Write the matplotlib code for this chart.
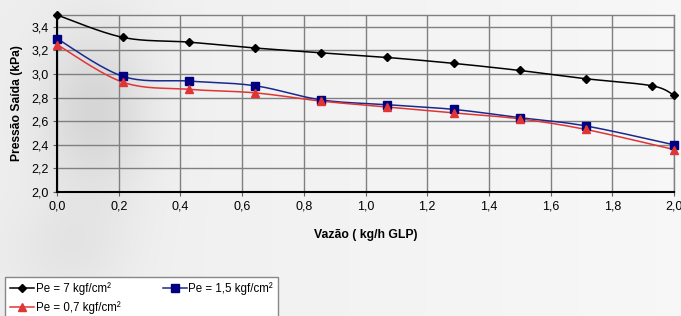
# -*- coding: utf-8 -*-
import numpy as np
import matplotlib
matplotlib.use("Agg")
import matplotlib.pyplot as plt
from matplotlib.ticker import FuncFormatter, MultipleLocator

plt.rcParams['font.family'] = ['Liberation Sans', 'DejaVu Sans']

# data
vazao_7 = [0.0, 0.214, 0.428, 0.643, 0.857, 1.071, 1.286, 1.5, 1.714, 1.929, 2.0]
pres_7 = [3.50, 3.31, 3.27, 3.22, 3.18, 3.14, 3.09, 3.03, 2.96, 2.90, 2.82]

vazao_15 = [0.0, 0.214, 0.428, 0.643, 0.857, 1.071, 1.286, 1.5, 1.714, 2.0]
pres_15 = [3.30, 2.98, 2.94, 2.90, 2.78, 2.74, 2.70, 2.63, 2.56, 2.40]

vazao_07 = [0.0, 0.214, 0.428, 0.643, 0.857, 1.071, 1.286, 1.5, 1.714, 2.0]
pres_07 = [3.25, 2.93, 2.87, 2.84, 2.77, 2.72, 2.67, 2.62, 2.53, 2.36]

labels = ['Pe = 7 kgf/cm²', 'Pe = 1,5 kgf/cm²', 'Pe = 0,7 kgf/cm²']


def smooth(x, y, n=20):
    # excel-like smoothed line (bezier through the points)
    x = np.asarray(x, float)
    y = np.asarray(y, float)
    px = np.concatenate([[x[0]], x, [x[-1]]])
    py = np.concatenate([[y[0]], y, [y[-1]]])
    xs, ys = [], []
    t = np.linspace(0, 1, n)
    for i in range(1, len(px) - 2):
        p0 = np.array([px[i], py[i]])
        p3 = np.array([px[i + 1], py[i + 1]])
        c1 = p0 + (p3 - np.array([px[i - 1], py[i - 1]])) / 6.0
        c2 = p3 - (np.array([px[i + 2], py[i + 2]]) - p0) / 6.0
        b = ((1 - t) ** 3)[:, None] * p0 + (3 * (1 - t) ** 2 * t)[:, None] * c1 \
            + (3 * (1 - t) * t ** 2)[:, None] * c2 + (t ** 3)[:, None] * p3
        xs.extend(b[:, 0])
        ys.extend(b[:, 1])
    return xs, ys


fig = plt.figure(figsize=(6.81, 3.16), dpi=100, facecolor='#efefef')

# soft gray backdrop like the original sheet
bg = fig.add_axes([0, 0, 1, 1])
gx, gy = np.meshgrid(np.arange(681), np.arange(316))
shade = 0.935 + 0.035 * gx / 681.0
shade -= 0.10 * np.exp(-((gx - 95) / 55.0) ** 2 - ((gy - 110) / 85.0) ** 2)
shade -= 0.04 * np.exp(-((gx - 70) / 60.0) ** 2 - ((gy - 250) / 50.0) ** 2)
bg.imshow(np.dstack([shade] * 3), aspect='auto', interpolation='bilinear')
bg.axis('off')

ax = fig.add_axes([57 / 681, 1 - 192 / 316, 617 / 681, 177 / 316])
ax.set_facecolor('none')

series = [
    (vazao_7, pres_7, '#000000', '#000000', 'D', 4),
    (vazao_15, pres_15, '#1a2a8c', '#000080', 's', 6),
    (vazao_07, pres_07, '#e03535', '#e03535', '^', 6),
]
handles = []
for (x, y, lc, mc, mk, ms), lab in zip(series, labels):
    sx, sy = smooth(x, y)
    ax.plot(sx, sy, color=lc, lw=1.1, zorder=3, clip_on=False)
    ax.plot(x, y, ls='none', marker=mk, ms=ms, color=mc, zorder=4, clip_on=False)
    h, = ax.plot([], [], color=lc, lw=1.1, marker=mk, ms=ms * 0.9, mfc=mc, mec=mc)
    handles.append(h)

ax.set_xlim(0, 2.0)
ax.set_ylim(2.0, 3.5)
ax.xaxis.set_major_locator(MultipleLocator(0.2))
ax.yaxis.set_major_locator(MultipleLocator(0.2))
fmt = FuncFormatter(lambda v, p: ('%.1f' % v).replace('.', ','))
ax.xaxis.set_major_formatter(fmt)
ax.yaxis.set_major_formatter(fmt)
ax.grid(True, color='#808080', lw=1)
ax.set_axisbelow(True)
ax.tick_params(labelsize=9, length=3, width=0.8, color='#606060', pad=3)
for s in ['top', 'right']:
    ax.spines[s].set_color('#808080')
    ax.spines[s].set_linewidth(1)
for s in ['left', 'bottom']:
    ax.spines[s].set_color('#000000')
    ax.spines[s].set_linewidth(1.5)

ax.set_xlabel('Vazão ( kg/h GLP)', fontsize=8.8, fontweight='bold', labelpad=12)
ax.set_ylabel('Pressão Saída (kPa)', fontsize=8.7, fontweight='bold', labelpad=6)

# legend rows: 7 | 1,5 then 0,7 (matplotlib fills by column)
order = [0, 2, 1]
leg = fig.legend([handles[i] for i in order], [labels[i] for i in order],
                 loc='upper left', bbox_to_anchor=(5 / 681, 1 - 277 / 316),
                 ncol=2, fontsize=8.3, frameon=True, fancybox=False, edgecolor='#888888',
                 facecolor='white', framealpha=1, handlelength=2.1, handletextpad=0.1,
                 columnspacing=3.7, borderpad=0.45, labelspacing=0.55, borderaxespad=0)
leg.get_frame().set_linewidth(1)

fig.savefig('out.png', dpi=100, facecolor=fig.get_facecolor())
